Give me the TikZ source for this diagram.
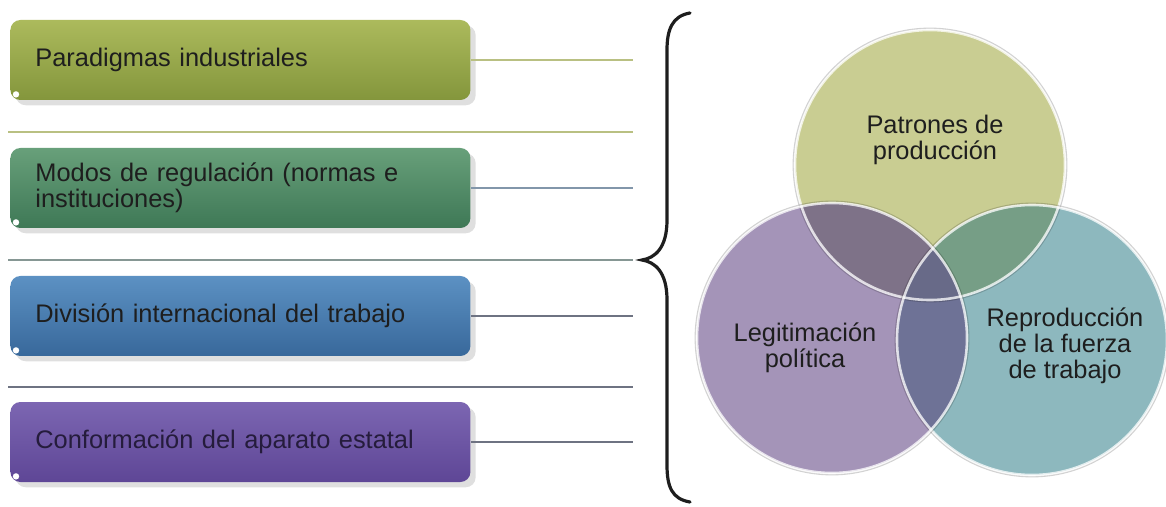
\documentclass[tikz,border=0pt]{standalone}
\usepackage{fontspec}
\setmainfont{Liberation Sans}
\usetikzlibrary{shadows}

\definecolor{ink}{RGB}{30,30,30}
\definecolor{oliveTop}{RGB}{172,186,92}
\definecolor{oliveBot}{RGB}{132,150,60}
\definecolor{greenTop}{RGB}{104,160,122}
\definecolor{greenBot}{RGB}{62,120,86}
\definecolor{blueTop}{RGB}{92,145,195}
\definecolor{blueBot}{RGB}{56,104,155}
\definecolor{violetTop}{RGB}{124,102,178}
\definecolor{violetBot}{RGB}{94,70,150}
\definecolor{lineOlive}{RGB}{185,192,130}
\definecolor{lineGreen}{RGB}{150,175,160}
\definecolor{lineBlue}{RGB}{130,150,170}
\definecolor{lineGray}{RGB}{110,115,130}
\definecolor{sunY}{RGB}{201,205,146}
\definecolor{lilac}{RGB}{164,148,184}
\definecolor{aqua}{RGB}{141,184,190}
\definecolor{yxl}{RGB}{126,114,136}
\definecolor{yxa}{RGB}{118,158,134}
\definecolor{lxa}{RGB}{110,114,150}
\definecolor{allx}{RGB}{104,106,136}

\tikzset{
  bar/.style={rounded corners=5pt, anchor=west, minimum width=230pt,
    minimum height=40pt, text width=205pt, inner xsep=12.5pt, align=left,
    text=ink, font=\fontsize{12.7}{13}\selectfont, drop shadow={opacity=0.25}},
  tick/.style={line width=0.7pt},
  venn/.style={circle, minimum size=135pt, inner sep=0pt},
  rim/.style={draw=white, line width=1.3pt, draw opacity=0.75},
  rimshade/.style={draw=black, line width=0.8pt, draw opacity=0.18},
  vennlabel/.style={align=center, text=ink, font=\fontsize{12.7}{13}\selectfont},
}

\begin{document}
\begin{tikzpicture}[x=0.5pt,y=-0.5pt]
\useasboundingbox (0,0) rectangle (1166,507);

% left column of bars
\node[bar, top color=oliveTop, bottom color=oliveBot] at (10,60) (paradigmas) {Paradigmas industriales};
\node[bar, top color=greenTop, bottom color=greenBot] at (10,188) (modos) {Modos de regulación (normas e\\instituciones)};
\node[bar, top color=blueTop, bottom color=blueBot] at (10,316) (division) {División internacional del trabajo};
\node[bar, top color=violetTop, bottom color=violetBot, text={violetBot!40!black}] at (10,442) (conformacion) {Conformación del aparato estatal};
\foreach \b in {paradigmas,modos,division,conformacion}
  \fill[white] ([shift={(6,-6)}]\b.south west) circle (1.6pt);

% ticks running to the brace
\coordinate (t1) at (633,60);
\coordinate (t2) at (633,188);
\coordinate (t3) at (633,316);
\coordinate (t4) at (633,442);
\draw[tick, lineOlive] (paradigmas.east) -- (t1);
\draw[tick, lineBlue] (modos.east) -- (t2);
\draw[tick, lineGray] (division.east) -- (t3);
\draw[tick, lineGray] (conformacion.east) -- (t4);

% separators
\coordinate (s1a) at (8,132);  \coordinate (s1b) at (633,132);
\coordinate (s2a) at (8,260);  \coordinate (s2b) at (633,260);
\coordinate (s3a) at (8,387);  \coordinate (s3b) at (633,387);
\draw[tick, lineOlive] (s1a) -- (s1b);
\draw[tick, lineGreen!60!lineGray] (s2a) -- (s2b);
\draw[tick, lineGray] (s3a) -- (s3b);

% brace
\coordinate (btop) at (690,13);
\coordinate (btip) at (642,260);
\coordinate (bbot) at (690,502);
\draw[line width=1.6pt, ink, line cap=round]
  (btop) .. controls (672,16) and (667,30) .. (667,50)
  -- (667,220) .. controls (667,248) and (655,258) .. (btip)
  .. controls (655,262) and (667,272) .. (667,300)
  -- (667,465) .. controls (667,487) and (672,499) .. (bbot);

% venn circles
\node[venn, fill=sunY] at (930,165) (patrones) {};
\node[venn, fill=lilac] at (832,338) (legitimacion) {};
\node[venn, fill=aqua] at (1032,340) (reproduccion) {};

\begin{scope}
  \clip (patrones.center) circle (67.5pt);
  \fill[yxl] (legitimacion.center) circle (67.5pt);
  \fill[yxa] (reproduccion.center) circle (67.5pt);
\end{scope}
\begin{scope}
  \clip (legitimacion.center) circle (67.5pt);
  \fill[lxa] (reproduccion.center) circle (67.5pt);
  \clip (reproduccion.center) circle (67.5pt);
  \fill[allx] (patrones.center) circle (67.5pt);
\end{scope}

\foreach \c in {patrones,reproduccion,legitimacion} {
  \draw[rimshade] (\c.center) circle (68.3pt);
  \draw[rim] (\c.center) circle (67.5pt);
}

\node[vennlabel] at (935,140) (lbl1) {Patrones de\\producción};
\node[vennlabel] at (805,348) (lbl2) {Legitimación\\política};
\node[vennlabel] at (1065,346) (lbl3) {Reproducción\\de la fuerza\\de trabajo};
\end{tikzpicture}
\end{document}
